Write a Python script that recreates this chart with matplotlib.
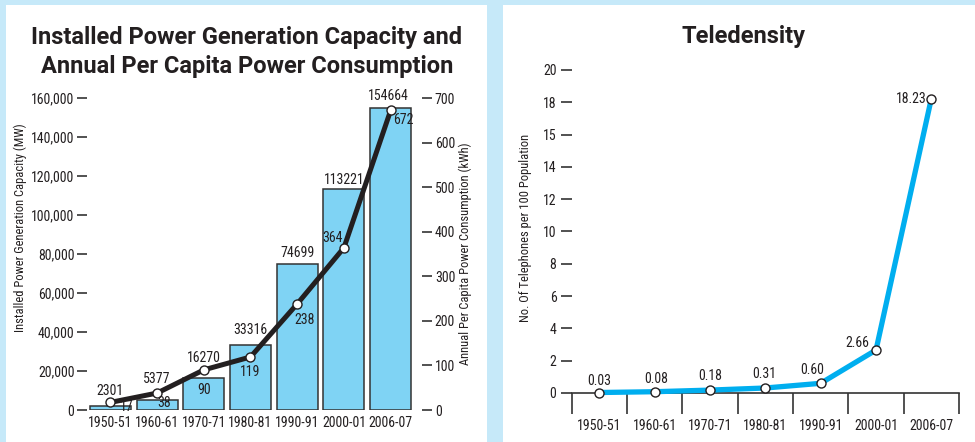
import matplotlib
matplotlib.use('Agg')
import matplotlib.pyplot as plt
from matplotlib import font_manager
from matplotlib.patches import Rectangle

# ---- data ----
periods = ['1950-51', '1960-61', '1970-71', '1980-81', '1990-91', '2000-01', '2006-07']
capacity_mw = [2301, 5377, 16270, 33316, 74699, 113221, 154664]
per_capita_kwh = [17, 38, 90, 119, 238, 364, 672]
teledensity = [0.03, 0.08, 0.18, 0.31, 0.60, 2.66, 18.23]
tele_labels = ['0.03', '0.08', '0.18', '0.31', '0.60', '2.66', '18.23']

cap_ticks = [0, 20000, 40000, 60000, 80000, 100000, 120000, 140000, 160000]
kwh_ticks = [0, 100, 200, 300, 400, 500, 600, 700]
tele_ticks = [0, 2, 4, 6, 8, 10, 12, 14, 16, 18, 20]
tele_tick_labels = ['0', '2', '4', '6', '8', '10', '12', '14', '15', '18', '20']

# ---- style ----
BG = '#c6e9f9'
BAR = '#7fd3f4'
INK = '#231f20'
BLUE = '#00aeef'

names = {f.name for f in font_manager.fontManager.ttflist}
COND = 'DejaVu Sans'
for cand in ['Liberation Sans Narrow', 'DejaVu Sans Condensed', 'Roboto Condensed']:
    if cand in names:
        COND = cand
        break
TITLE = 'Roboto' if 'Roboto' in names else 'DejaVu Sans'

W, H = 975, 442
fig = plt.figure(figsize=(W / 100, H / 100), dpi=100)
fig.patch.set_facecolor(BG)


def px_axes(x0, y_top, x1, y_bottom):
    a = fig.add_axes([x0 / W, 1 - y_bottom / H, (x1 - x0) / W, (y_bottom - y_top) / H])
    a.set_zorder(2)
    return a


# white panels
fig.patches.append(Rectangle((6 / W, 0), 481 / W, 1 - 5 / H, transform=fig.transFigure,
                             facecolor='white', edgecolor='none', zorder=-1))
fig.patches.append(Rectangle((503 / W, 0), 472 / W, 1 - 5 / H, transform=fig.transFigure,
                             facecolor='white', edgecolor='none', zorder=-1))

FS = 10
tick_font = dict(family=COND, size=FS, color=INK)

# ================= left chart =================
ax = px_axes(87, 98, 414, 410)
ax.set_facecolor('none')
x = list(range(len(periods)))
ax.bar(x, capacity_mw, width=0.88, color=BAR, edgecolor='#333333', linewidth=1.1, zorder=2)
ax.set_xlim(-0.5, 6.5)
ax.set_ylim(0, 160000)
for s in ax.spines.values():
    s.set_visible(False)
ax.set_yticks(cap_ticks)
ax.set_yticklabels([f'{v:,}' for v in cap_ticks], fontdict=tick_font)
ax.tick_params(axis='y', length=7, width=1.2, color='#333333', pad=2)
ax.set_xticks(x)
ax.set_xticklabels(periods, fontdict=tick_font)
ax.tick_params(axis='x', length=0, pad=4)

bar_offsets = [(0, 15), (0, 21), (0, 20), (0, 15), (0, 11), (0, 9), (-2, 12)]
for xi, v, (dx, dy) in zip(x, capacity_mw, bar_offsets):
    ax.annotate(str(v), (xi, v), xytext=(dx, dy), textcoords='offset pixels',
                ha='center', va='center', fontfamily=COND, fontsize=FS, color=INK, zorder=5)

ax2 = ax.twinx()
ax2.set_zorder(3)
ax2.set_ylim(0, 700)
for s in ax2.spines.values():
    s.set_visible(False)
ax2.spines['right'].set_position(('outward', 6))
ax2.plot(x, per_capita_kwh, color=INK, linewidth=3.6, marker='o', markersize=6.5,
         markerfacecolor='white', markeredgecolor=INK, markeredgewidth=1.0, zorder=4,
         solid_capstyle='round')
ax2.set_yticks(kwh_ticks)
ax2.set_yticklabels([str(v) for v in kwh_ticks], fontdict=tick_font)
ax2.tick_params(axis='y', length=7, width=1.2, color='#333333', pad=2)

line_offsets = [(16, -5), (7, -10), (0, -20), (0, -15), (7, -16), (-11, 10), (13, -10)]
for xi, v, (dx, dy) in zip(x, per_capita_kwh, line_offsets):
    ax2.annotate(str(v), (xi, v), xytext=(dx, dy), textcoords='offset pixels',
                 ha='center', va='center', fontfamily=COND, fontsize=FS, color=INK, zorder=5)

fig.text(247 / W, 1 - 52 / H,
         'Installed Power Generation Capacity and\nAnnual Per Capita Power Consumption',
         ha='center', va='center', fontfamily=TITLE, fontweight='bold', fontsize=17,
         color=INK, linespacing=1.3)
fig.text(20 / W, 1 - 228 / H, 'Installed Power Generation Capacity (MW)', rotation=90,
         ha='center', va='center', fontfamily=COND, fontsize=9, color=INK)
fig.text(465 / W, 1 - 254 / H, 'Annual Per Capita Power Consumption (kWh)', rotation=90,
         ha='center', va='center', fontfamily=COND, fontsize=9, color=INK)

# ================= right chart =================
bx = px_axes(571.7, 70, 959, 393)
bx.set_facecolor('none')
bx.plot(x, teledensity, color=BLUE, linewidth=3.8, marker='o', markersize=6.5,
        markerfacecolor='white', markeredgecolor=INK, markeredgewidth=1.0, zorder=4,
        clip_on=False)
bx.set_xlim(-0.5, 6.5)
bx.set_ylim(0, 20)
for side in ['left', 'right', 'top']:
    bx.spines[side].set_visible(False)
bx.spines['bottom'].set_color('#333333')
bx.spines['bottom'].set_linewidth(1.2)
bx.set_yticks(tele_ticks)
bx.set_yticklabels(tele_tick_labels, fontdict=tick_font)
bx.tick_params(axis='y', length=8, width=1.2, color='#333333', pad=3)
bx.set_xticks([i - 0.5 for i in range(len(periods) + 1)])
bx.set_xticklabels([])
bx.tick_params(axis='x', which='major', length=15, width=1.2, color='#333333')
bx.set_xticks(x, minor=True)
bx.set_xticklabels(periods, minor=True, fontdict=tick_font)
bx.tick_params(axis='x', which='minor', length=0, pad=19)

tele_offsets = [(0, 12), (1, 13), (0, 14), (-1, 14), (-8, 13), (-19, 7), (-20, 0)]
for xi, v, lab, (dx, dy) in zip(x, teledensity, tele_labels, tele_offsets):
    bx.annotate(lab, (xi, v), xytext=(dx, dy), textcoords='offset pixels',
                ha='center', va='center', fontfamily=COND, fontsize=FS, color=INK, zorder=5)

fig.text(743 / W, 1 - 37 / H, 'Teledensity', ha='center', va='center',
         fontfamily=TITLE, fontweight='bold', fontsize=17, color=INK)
fig.text(525 / W, 1 - 228 / H, 'No. Of Telephones per 100 Population', rotation=90,
         ha='center', va='center', fontfamily=COND, fontsize=9, color=INK)

fig.savefig('out.png', dpi=100, facecolor=BG)
